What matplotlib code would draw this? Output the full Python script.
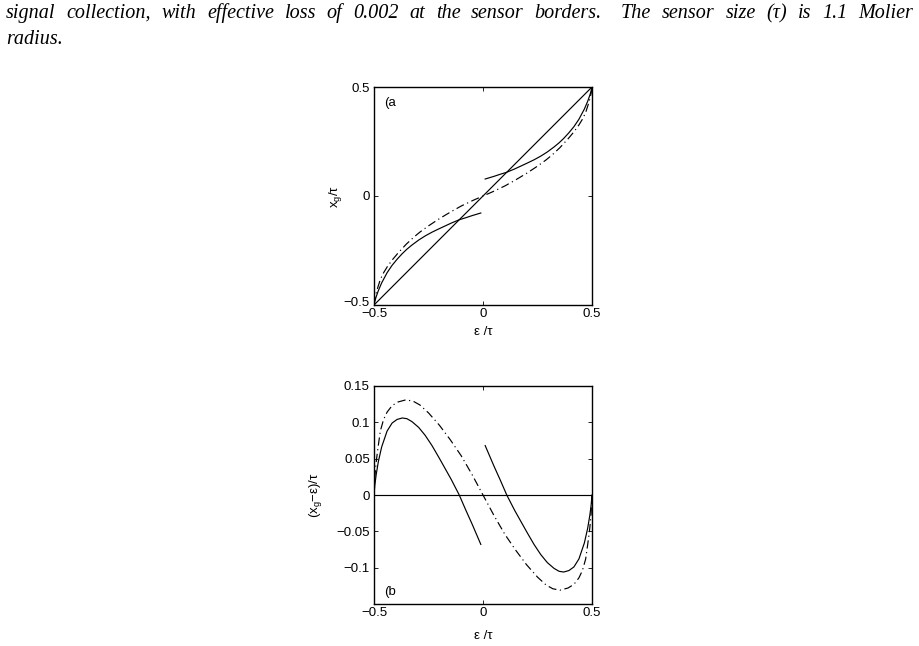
import matplotlib
matplotlib.use("Agg")
import matplotlib.pyplot as plt
import matplotlib.transforms as mtransforms
import numpy as np

# ---------------- data ----------------
# solid curve, left branch (eps/tau, (x_g-eps)/tau, x_g/tau)
sol_l_eps = [-0.500, -0.496, -0.490, -0.480, -0.465, -0.440, -0.417, -0.394, -0.370, -0.349, -0.326,
             -0.295, -0.265, -0.234, -0.203, -0.173, -0.145, -0.109, -0.080, -0.050, -0.030, -0.010]
sol_l_dev = [0.000, 0.014, 0.028, 0.046, 0.066, 0.088, 0.099, 0.104, 0.106, 0.105, 0.101,
             0.093, 0.082, 0.068, 0.052, 0.036, 0.021, 0.000, -0.020, -0.040, -0.054, -0.068]
sol_l_xg = [-0.500, -0.482, -0.462, -0.434, -0.399, -0.352, -0.318, -0.290, -0.264, -0.244, -0.225,
            -0.202, -0.183, -0.166, -0.151, -0.137, -0.124, -0.109, -0.100, -0.090, -0.084, -0.078]
# solid curve, right branch
sol_r_eps = [0.010, 0.030, 0.050, 0.080, 0.109, 0.145, 0.173, 0.203, 0.234, 0.265, 0.295,
             0.326, 0.349, 0.370, 0.394, 0.417, 0.440, 0.465, 0.480, 0.490, 0.496, 0.500]
sol_r_dev = [0.068, 0.054, 0.040, 0.020, 0.000, -0.021, -0.036, -0.052, -0.068, -0.082, -0.093,
             -0.101, -0.105, -0.106, -0.104, -0.099, -0.088, -0.066, -0.046, -0.028, -0.014, 0.000]
sol_r_xg = [0.078, 0.084, 0.090, 0.100, 0.109, 0.124, 0.137, 0.151, 0.166, 0.183, 0.202,
            0.225, 0.244, 0.264, 0.290, 0.318, 0.352, 0.399, 0.434, 0.462, 0.482, 0.500]
# dash-dot curve
dd_eps = [-0.500, -0.496, -0.490, -0.484, -0.471, -0.456, -0.440, -0.417, -0.390, -0.353, -0.320,
          -0.290, -0.250, -0.200, -0.150, -0.100, -0.050, 0.000, 0.050, 0.100, 0.150, 0.200,
          0.250, 0.290, 0.320, 0.353, 0.390, 0.417, 0.440, 0.456, 0.471, 0.484, 0.490, 0.496, 0.500]
dd_dev = [0.000, 0.025, 0.045, 0.060, 0.088, 0.104, 0.114, 0.123, 0.128, 0.131, 0.129,
          0.124, 0.113, 0.096, 0.076, 0.054, 0.028, 0.000, -0.028, -0.054, -0.076, -0.096,
          -0.113, -0.124, -0.129, -0.131, -0.128, -0.123, -0.114, -0.104, -0.088, -0.060, -0.045, -0.025, 0.000]
dd_xg = [-0.500, -0.471, -0.445, -0.424, -0.383, -0.352, -0.326, -0.294, -0.262, -0.222, -0.191,
         -0.166, -0.137, -0.104, -0.074, -0.046, -0.022, 0.000, 0.022, 0.046, 0.074, 0.104,
         0.137, 0.166, 0.191, 0.222, 0.262, 0.294, 0.326, 0.352, 0.383, 0.424, 0.445, 0.471, 0.500]
# reference lines
diag_x = [-0.5, 0.5]
diag_y = [-0.5, 0.5]
zero_x = [-0.5, 0.5]
zero_y = [0.0, 0.0]

xticks = [-0.5, 0, 0.5]
xticklabels = ["\u22120.5", "0", "0.5"]
a_yticks = [-0.5, 0, 0.5]
a_yticklabels = ["\u22120.5", "0", "0.5"]
b_yticks = [-0.1, -0.05, 0, 0.05, 0.1, 0.15]
b_yticklabels = ["\u22120.1", "\u22120.05", "0", "0.05", "0.1", "0.15"]

caption1 = "signal collection, with effective loss of 0.002 at the sensor borders.  The sensor size (\u03c4) is 1.1 Molier"
caption2 = "radius."

# ---------------- figure ----------------
W, H = 920, 646
fig = plt.figure(figsize=(W / 100, H / 100), dpi=100)
plt.rcParams['font.family'] = ['Liberation Sans', 'DejaVu Sans']
FS = 9.5

def px_axes(x0, y0, x1, y1):
    return fig.add_axes([x0 / W, 1 - y1 / H, (x1 - x0) / W, (y1 - y0) / H])

def style(ax):
    for s in ax.spines.values():
        s.set_linewidth(1.0)
    ax.tick_params(direction='in', length=3, width=0.6, top=True, right=True,
                   labelsize=FS)
    ax.tick_params(axis='x', pad=2.5)
    ax.tick_params(axis='y', pad=3)

LW = 0.85
DASH = (0, (7, 3, 1, 3))

# panel (a)
ax1 = px_axes(374, 87, 592, 305)
ax1.plot(diag_x, diag_y, color='k', lw=LW)
ax1.plot(sol_l_eps, sol_l_xg, color='k', lw=LW)
ax1.plot(sol_r_eps, sol_r_xg, color='k', lw=LW)
ax1.plot(dd_eps, dd_xg, color='k', lw=LW, linestyle=DASH)
ax1.set_xlim(-0.5, 0.5)
ax1.set_ylim(-0.5, 0.5)
ax1.set_xticks(xticks)
ax1.set_xticklabels(xticklabels)
ax1.set_yticks(a_yticks)
ax1.set_yticklabels(a_yticklabels)
style(ax1)
# nudge the lowest y tick label up a little (corner with the x tick label)
lab0 = ax1.get_yticklabels()[0]
lab0.set_transform(lab0.get_transform() + mtransforms.ScaledTranslation(0, 3 / 100, fig.dpi_scale_trans))
ax1.set_xlabel("\u03b5 /\u03c4", fontsize=FS, va='center')
ax1.xaxis.set_label_coords(0.5, -(332 - 305) / 218)
ax1.set_ylabel("x$_{\\mathregular{g}}$/\u03c4", fontsize=FS, va='center')
ax1.yaxis.set_label_coords((336 - 374) / 218, 0.5)
ax1.text(0.045, 0.925, "(a", transform=ax1.transAxes, fontsize=FS, va='center', ha='left')

# panel (b)
ax2 = px_axes(374, 386, 592, 604)
ax2.plot(zero_x, zero_y, color='k', lw=LW)
ax2.plot(sol_l_eps, sol_l_dev, color='k', lw=LW)
ax2.plot(sol_r_eps, sol_r_dev, color='k', lw=LW)
ax2.plot(dd_eps, dd_dev, color='k', lw=LW, linestyle=DASH)
ax2.set_xlim(-0.5, 0.5)
ax2.set_ylim(-0.15, 0.15)
ax2.set_xticks(xticks)
ax2.set_xticklabels(xticklabels)
ax2.set_yticks(b_yticks)
ax2.set_yticklabels(b_yticklabels)
style(ax2)
ax2.set_xlabel("\u03b5 /\u03c4", fontsize=FS, va='center')
ax2.xaxis.set_label_coords(0.5, -(636 - 604) / 218)
ax2.set_ylabel("(x$_{\\mathregular{g}}$\u2212\u03b5)/\u03c4", fontsize=FS, va='center')
ax2.yaxis.set_label_coords((316 - 374) / 218, 0.5)
ax2.text(0.045, 0.055, "(b", transform=ax2.transAxes, fontsize=FS, va='center', ha='left')

# ---------------- caption (justified first line) ----------------
renderer = fig.canvas.get_renderer()
x_left, x_right = 6, 913
cap_family = ['Liberation Serif', 'DejaVu Serif']
CAP_FS = 14.5
cap_font = dict(family=cap_family, style='italic', fontsize=CAP_FS)

words = [w for w in caption1.split(" ") if w != ""]
widths = []
texts = []
for w in words:
    t = fig.text(0, 1 - 18 / H, w, va='baseline', ha='left', **cap_font)
    widths.append(t.get_window_extent(renderer).width)
    texts.append(t)
gaps = len(words) - 1
extra = [1.0] * gaps
for i, w in enumerate(words[:-1]):
    if w.endswith("."):
        extra[i] = 1.8
gap_unit = (x_right - x_left - sum(widths)) / sum(extra)
x = x_left
for i, (t, w) in enumerate(zip(texts, widths)):
    t.set_x(x / W)
    x += w
    if i < gaps:
        x += gap_unit * extra[i]
fig.text(x_left / W, 1 - 44 / H, caption2, va='baseline', ha='left', **cap_font)

fig.savefig("out.png", dpi=100)
